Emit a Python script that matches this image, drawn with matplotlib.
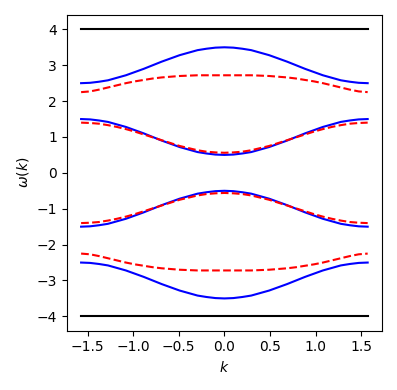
import numpy as np
import matplotlib.pyplot as plt

# k grid: -pi/2 .. 0 in steps of pi/32, mirrored to the right half
k_half = [-1.5708, -1.4726, -1.3744, -1.2763, -1.1781, -1.0799, -0.9817, -0.8836,
          -0.7854, -0.6872, -0.5890, -0.4909, -0.3927, -0.2945, -0.1963, -0.0982, 0.0]

# values for the left half (upper bands)
blue_top = [2.50, 2.51, 2.54, 2.58, 2.65, 2.72, 2.81, 2.90, 3.00,
            3.10, 3.19, 3.28, 3.35, 3.42, 3.46, 3.49, 3.50]
blue_mid = [1.50, 1.49, 1.46, 1.42, 1.35, 1.28, 1.19, 1.10, 1.00,
            0.90, 0.81, 0.72, 0.65, 0.58, 0.54, 0.51, 0.50]
red_top = [2.25, 2.27, 2.32, 2.38, 2.44, 2.50, 2.55, 2.59, 2.63,
           2.66, 2.68, 2.70, 2.71, 2.72, 2.72, 2.72, 2.72]
red_mid = [1.40, 1.39, 1.37, 1.33, 1.28, 1.22, 1.15, 1.07, 0.99,
           0.91, 0.83, 0.75, 0.69, 0.63, 0.59, 0.57, 0.56]
flat = 4.0


def mirror(v):
    return np.array(v + v[-2::-1])


k = np.array(k_half + [-x for x in k_half[-2::-1]])

fig, ax = plt.subplots(figsize=(3.97, 3.9))
ax.plot(k, np.full(len(k), flat), color="k", lw=1.5)
ax.plot(k, np.full(len(k), -flat), color="k", lw=1.5)
for b in (blue_top, blue_mid):
    ax.plot(k, mirror(b), color="b", lw=1.5)
    ax.plot(k, -mirror(b), color="b", lw=1.5)
for r in (red_top, red_mid):
    ax.plot(k, mirror(r), "r--", lw=1.5)
    ax.plot(k, -mirror(r), "r--", lw=1.5)

ax.set_xlabel(r"$k$")
ax.set_ylabel(r"$\omega(k)$")
plt.tight_layout()
plt.savefig("out.png", dpi=100)
